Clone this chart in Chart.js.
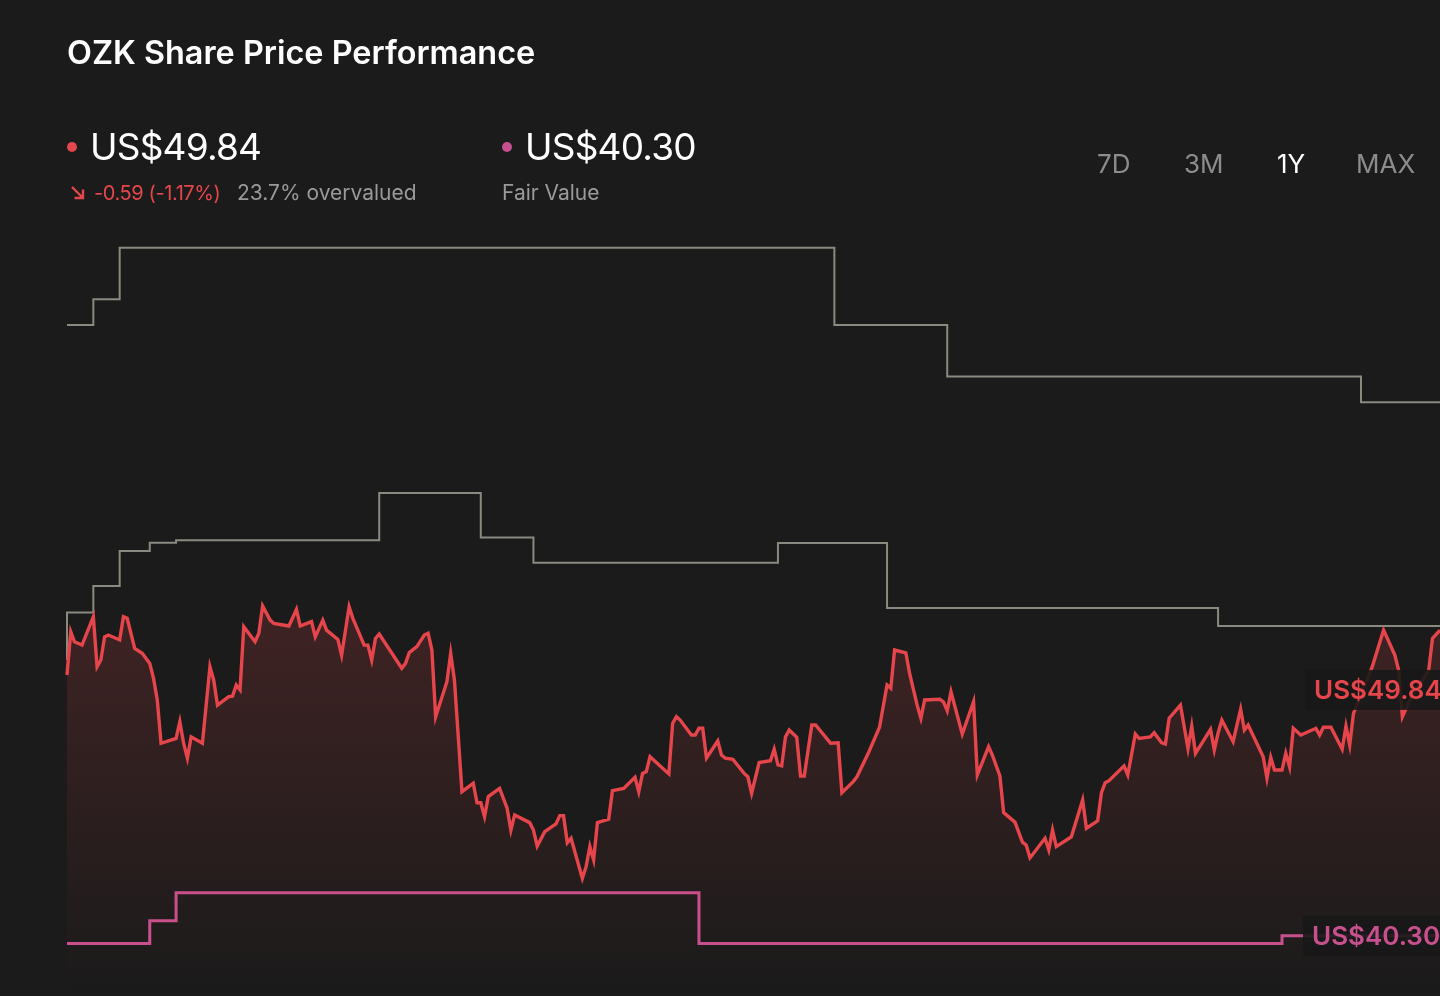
<!DOCTYPE html>
<html>
<head>
<meta charset="utf-8">
<title>OZK Share Price Performance</title>
<script src="https://cdn.jsdelivr.net/npm/chart.js@4.4.1/dist/chart.umd.min.js"></script>
<style>
  html, body {
    margin: 0;
    padding: 0;
    background: #1b1b1b;
    width: 1440px;
    height: 996px;
    overflow: hidden;
    font-family: Inter, "Noto Sans", sans-serif;
  }
  #wrap {
    position: absolute;
    left: 0;
    top: 0;
    width: 1440px;
    height: 996px;
  }
  .txt {
    position: absolute;
    line-height: 1;
    white-space: nowrap;
  }
  #title { left: 67px; top: 37px; font-size: 32.4px; font-weight: 600; color: #fff; }
  .big { top: 128px; font-size: 37px; color: #fff; letter-spacing: -0.8px; }
  .sub { top: 182px; font-size: 21px; color: #9a9a9a; }
  .red { color: #e4474b; font-size: 20px; top: 183px; letter-spacing: -0.4px; }
  .dot { position: absolute; width: 10px; height: 10px; border-radius: 50%; top: 142px; }
  .range { top: 151px; font-size: 26px; color: #8c8c8c; }
  .range.on { color: #fff; }
  #arrow { position: absolute; left: 70px; top: 185px; }
</style>
</head>
<body>
<div id="wrap"><canvas id="priceChart"></canvas></div>

<div id="title" class="txt">OZK Share Price Performance</div>
<span class="dot" style="left:67px;background:#e4474b"></span>
<div id="priceNow" class="txt big" style="left:90px"></div>
<svg id="arrow" width="16" height="16" viewBox="0 0 16 16">
  <path d="M2 2 L13 13 M13 4.5 L13 13 L4.5 13" stroke="#e4474b" stroke-width="2.4" fill="none"/>
</svg>
<div id="priceMove" class="txt sub red" style="left:94px"></div>
<div id="valuation" class="txt sub" style="left:237px"></div>
<span class="dot" style="left:502px;background:#c8508f"></span>
<div id="fairNow" class="txt big" style="left:525px"></div>
<div class="txt sub" style="left:502px">Fair Value</div>

<div class="txt range" style="left:1097px">7D</div>
<div class="txt range" style="left:1184px">3M</div>
<div class="txt range on" style="left:1277px">1Y</div>
<div class="txt range" style="left:1356px">MAX</div>

<script>
// Kurss un vērtības (dienas no perioda sākuma)
const currentPrice = 49.84;
const priceChange = -0.59;
const priceChangePct = -1.17;
const fairValue = 40.3;

const priceDays = [
  0, 1, 2, 4, 7, 8, 9, 10, 11, 14, 15, 16, 18, 20, 22, 23, 24, 25, 29, 30,
  31, 32, 33, 36, 38, 39, 40, 43, 44, 45, 46, 47, 50, 51, 52, 54, 55, 59, 61, 62,
  65, 66, 68, 69, 72, 73, 75, 76, 79, 80, 81, 82, 83, 89, 90, 91, 93, 95, 96, 97,
  98, 101, 102, 103, 105, 108, 109, 110, 111, 112, 115, 117, 118, 119, 123, 124, 125, 127, 130, 131,
  132, 133, 134, 137, 138, 139, 140, 141, 144, 145, 148, 151, 152, 153, 154, 155, 160, 161, 162, 163,
  166, 167, 168, 169, 170, 173, 174, 175, 177, 180, 181, 182, 184, 187, 188, 189, 190, 191, 192, 194,
  195, 196, 198, 199, 203, 205, 206, 209, 210, 213, 216, 218, 219, 220, 223, 224, 226, 227, 228, 232,
  233, 234, 235, 238, 241, 242, 245, 246, 248, 249, 252, 254, 255, 256, 260, 261, 262, 263, 267, 270,
  271, 274, 275, 276, 277, 281, 282, 284, 285, 288, 289, 291, 292, 293, 296, 298, 299, 300, 304, 305,
  306, 307, 310, 312, 313, 314, 318, 319, 320, 321, 323, 324, 325, 326, 328, 332, 333, 334, 336, 339,
  340, 341, 342, 347, 350, 353, 354, 355, 357, 362, 363, 365, 367, 368
];
const priceValues = [
  50.42, 52.10, 51.71, 51.58, 52.68, 50.74, 51.00, 51.90, 51.97, 51.78, 52.68, 52.62, 51.45, 51.26, 50.87, 50.29, 49.45, 47.77, 47.96, 48.61,
  47.77, 47.19, 48.02, 47.77, 50.74, 50.22, 49.25, 49.58, 49.60, 50.03, 49.84, 52.29, 51.71, 52.04, 53.10, 52.55, 52.42, 52.32, 52.97, 52.32,
  52.49, 51.90, 52.55, 52.16, 51.80, 51.19, 53.07, 52.62, 51.58, 51.58, 51.00, 51.84, 52.01, 50.68, 50.87, 51.29, 51.52, 51.97, 52.04, 51.39,
  48.80, 50.16, 51.26, 50.22, 45.89, 46.22, 45.46, 45.46, 44.92, 45.70, 46.02, 45.25, 44.40, 44.99, 44.69, 44.40, 43.78, 44.34, 44.64, 44.96,
  44.96, 43.91, 44.08, 42.53, 42.98, 43.76, 43.24, 44.69, 44.82, 45.93, 46.02, 46.45, 45.89, 46.60, 46.67, 47.25, 46.58, 48.54, 48.80, 48.67,
  48.09, 48.09, 48.35, 48.35, 47.20, 47.86, 47.31, 47.19, 47.15, 46.60, 46.47, 45.83, 47.02, 47.09, 47.54, 46.93, 46.89, 48.02, 48.28, 48.00,
  46.50, 46.50, 48.48, 48.48, 47.77, 47.79, 45.85, 46.28, 46.47, 47.38, 48.39, 50.03, 49.90, 51.39, 51.28, 50.48, 49.25, 48.74, 49.45, 49.48,
  49.38, 49.03, 49.77, 48.13, 49.38, 46.54, 47.64, 47.31, 46.50, 45.08, 44.71, 43.93, 43.82, 43.32, 44.08, 43.63, 44.40, 43.76, 44.14, 45.57,
  44.47, 44.76, 45.85, 46.24, 46.32, 46.89, 46.54, 48.13, 47.96, 48.02, 48.18, 47.79, 47.74, 48.74, 49.25, 47.57, 48.44, 47.38, 48.31, 47.51,
  48.16, 48.67, 47.83, 49.09, 48.28, 48.48, 47.25, 46.41, 47.22, 46.73, 46.73, 47.38, 46.86, 48.35, 48.09, 48.35, 48.09, 48.39, 48.39, 47.54,
  48.44, 47.70, 48.93, 50.74, 52.16, 51.19, 50.61, 48.80, 49.45, 50.61, 51.84, 52.16, 51.20, 49.84
];

// Analītiķu mērķi un patiesā vērtība (pakāpju līnijas)
const targetHighDays = [0, 7, 14, 204, 234, 344, 370];
const targetHighValues = [64, 65, 67, 64, 62, 61, 61];

const consensusDays = [0, 0, 7, 14, 22, 29, 83, 110, 124, 189, 218, 306, 370];
const consensusValues = [51.0, 52.84, 53.87, 55.23, 55.55, 55.65, 57.48, 55.76, 54.78, 55.54, 53.02, 52.32, 52.32];

const fairValueDays = [0, 22, 29, 168, 323, 370];
const fairValueValues = [40.0, 40.88, 41.97, 40.0, 40.3, 40.3];

const RED = "#e6464b";
const PINK = "#c8508f";
const GREY = "#8b8a80";

function toPoints(days, values) {
  return days.map((d, i) => ({ x: d, y: values[i] }));
}

function fillHeader() {
  document.getElementById("priceNow").textContent = "US$" + currentPrice.toFixed(2);
  document.getElementById("fairNow").textContent = "US$" + fairValue.toFixed(2);
  document.getElementById("priceMove").textContent =
    priceChange.toFixed(2) + " (" + priceChangePct.toFixed(2) + "%)";
  const over = (currentPrice / fairValue - 1) * 100;
  document.getElementById("valuation").textContent = over.toFixed(1) + "% overvalued";
}

function drawTag(ctx, text, y, left, color) {
  ctx.save();
  ctx.font = "600 26px Inter, 'Noto Sans', sans-serif";
  ctx.fillStyle = "rgba(24, 24, 24, 0.9)";
  ctx.fillRect(left, y - 20, 200, 40);
  ctx.fillStyle = color;
  ctx.textBaseline = "middle";
  ctx.fillText(text, left + 9, y + 1);
  ctx.restore();
}

const valueTags = {
  id: "valueTags",
  afterDatasetsDraw(chart) {
    const { ctx, scales } = chart;
    drawTag(ctx, "US$" + currentPrice.toFixed(2), scales.y.getPixelForValue(currentPrice), 1305, RED);
    drawTag(ctx, "US$" + fairValue.toFixed(2), scales.y.getPixelForValue(fairValue), 1303, PINK);
  },
};

function priceFill(context) {
  const { chart } = context;
  const { ctx, chartArea } = chart;
  if (!chartArea) return "rgba(228, 71, 75, 0.1)";
  const g = ctx.createLinearGradient(0, chartArea.top, 0, chartArea.bottom);
  g.addColorStop(0, "rgba(228, 71, 75, 0.30)");
  g.addColorStop(0.49, "rgba(228, 71, 75, 0.19)");
  g.addColorStop(1, "rgba(228, 71, 75, 0)");
  return g;
}

function createChart() {
  const el = document.getElementById("priceChart");
  const clip = { left: 3, top: 3, right: 0, bottom: 0 };

  new Chart(el, {
    type: "line",
    data: {
      datasets: [
        {
          label: "Price",
          data: toPoints(priceDays, priceValues),
          borderColor: RED,
          borderWidth: 3.4,
          backgroundColor: priceFill,
          fill: "start",
          pointRadius: 0,
          tension: 0,
          clip: clip,
        },
        {
          label: "Fair Value",
          data: toPoints(fairValueDays, fairValueValues),
          borderColor: PINK,
          borderWidth: 3,
          stepped: "before",
          pointRadius: 0,
          fill: false,
          clip: clip,
        },
        {
          label: "Analyst Consensus",
          data: toPoints(consensusDays, consensusValues),
          borderColor: GREY,
          borderWidth: 2,
          stepped: "before",
          pointRadius: 0,
          fill: false,
          clip: clip,
        },
        {
          label: "Analyst High",
          data: toPoints(targetHighDays, targetHighValues),
          borderColor: GREY,
          borderWidth: 2,
          stepped: "before",
          pointRadius: 0,
          fill: false,
          clip: clip,
        },
      ],
    },
    options: {
      responsive: true,
      maintainAspectRatio: false,
      animation: false,
      layout: { padding: { left: 67, right: 0, top: 222, bottom: 1 } },
      scales: {
        x: { type: "linear", min: 0, max: 365, display: false },
        y: { min: 38, max: 68, display: false },
      },
      plugins: {
        legend: { display: false },
        tooltip: { enabled: false },
      },
    },
    plugins: [valueTags],
  });
}

document.addEventListener("DOMContentLoaded", function () {
  fillHeader();
  createChart();
});
</script>
</body>
</html>
